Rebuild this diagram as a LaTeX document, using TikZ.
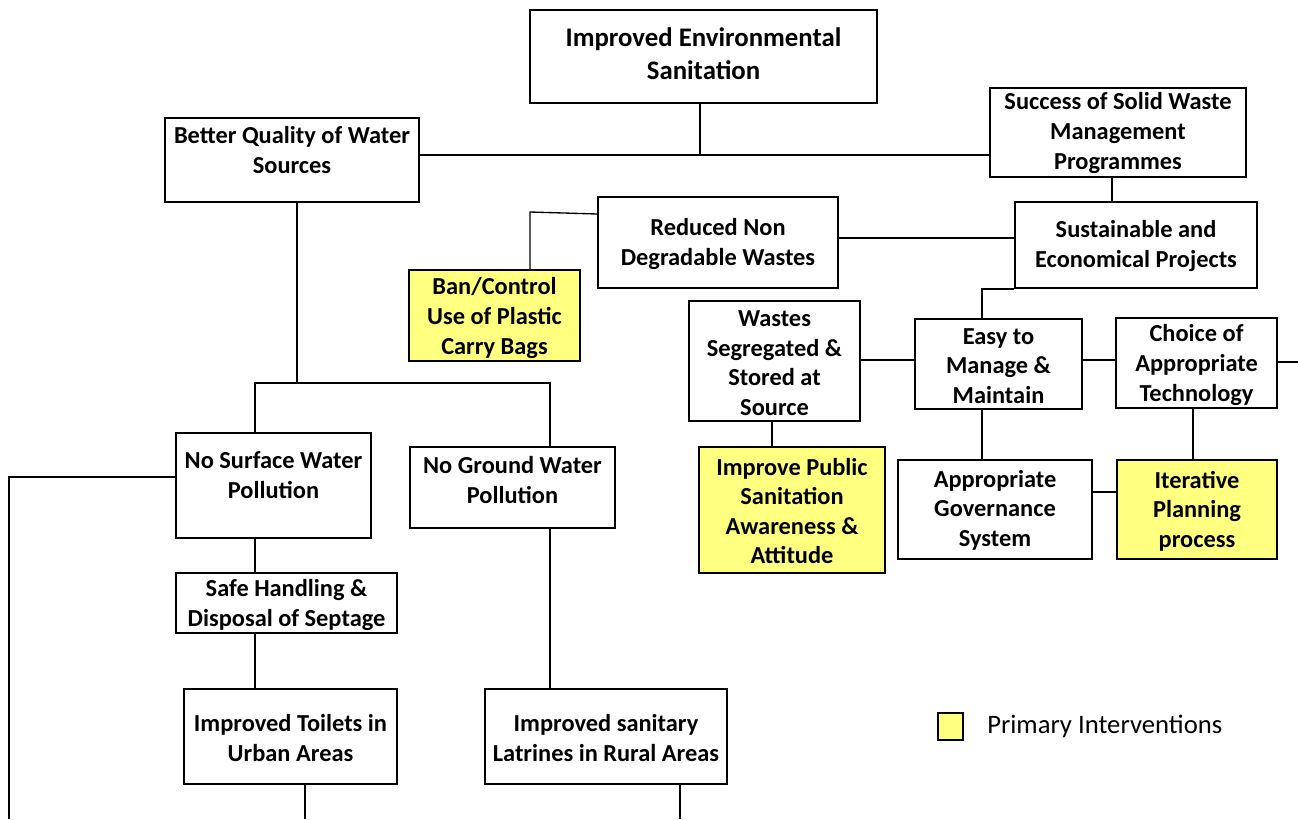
\documentclass[tikz,border=0pt]{standalone}
\usepackage{fontspec}
\setmainfont{Carlito}
\usetikzlibrary{fit}
\definecolor{pyellow}{RGB}{255,255,128}
\tikzset{
  box/.style={draw=black, line width=1.3pt, inner sep=0pt, fill=white},
  ybox/.style={box, fill=pyellow},
  txt/.style={font=\bfseries\fontsize{18.3}{22.2}\selectfont, align=center, inner sep=0pt},
  bigtxt/.style={font=\bfseries\fontsize{20.1}{25}\selectfont, align=center, inner sep=0pt},
  conn/.style={draw=black, line width=1pt},
}
\newcommand{\bx}[9]{%
  \node[#2, fit={(#3,#4) (#5,#6)}] (#1) {};
  \node[#9] (#1t) at ({(#3+#5)/2},#7) {#8};}
\begin{document}
\begin{tikzpicture}[x=0.75pt,y=-0.75pt]
\useasboundingbox (0,0) rectangle (1298,819);
% boxes
\bx{top}{box}{530}{10}{877}{103}{53.5}{Improved Environmental\\Sanitation}{bigtxt}
\bx{better}{box}{165}{118}{419}{202}{150}{Better Quality of Water\\Sources}{txt}
\bx{success}{box}{990}{88}{1246}{177}{133}{Success of Solid Waste\\Management\\Programmes}{txt}
\bx{reduced}{box}{598}{197}{838}{288}{244}{Reduced Non\\Degradable Wastes}{txt}
\bx{sust}{box}{1015}{202}{1257}{288}{246}{Sustainable and\\Economical Projects}{txt}
\bx{ban}{ybox}{409}{270}{580}{361}{318}{Ban/Control\\Use of Plastic\\Carry Bags}{txt}
\bx{wastes}{box}{689}{301}{860}{421}{363}{Wastes\\Segregated \&\\Stored at\\Source}{txt}
\bx{easy}{box}{915}{319}{1082}{409}{366}{Easy to\\Manage \&\\Maintain}{txt}
\bx{choice}{box}{1116}{318}{1277}{408}{365}{Choice of\\Appropriate\\Technology}{txt}
\bx{nosurf}{box}{176}{433}{371}{538}{475}{No Surface Water\\Pollution}{txt}
\bx{noground}{box}{410}{447}{615}{528}{480}{No Ground Water\\Pollution}{txt}
\bx{public}{ybox}{699}{447}{885}{573}{511}{Improve Public\\Sanitation\\Awareness \&\\Attitude}{txt}
\bx{gov}{box}{898}{460}{1092}{559}{510}{Appropriate\\Governance\\System}{txt}
\bx{iter}{ybox}{1117}{460}{1277}{559}{511}{Iterative\\Planning\\process}{txt}
\bx{safe}{box}{176}{573}{397}{633}{605}{Safe Handling \&\\Disposal of Septage}{txt}
\bx{toilets}{box}{184}{689}{397}{784}{738}{Improved Toilets in\\Urban Areas}{txt}
\bx{latrines}{box}{485}{689}{727}{784}{738}{Improved sanitary\\Latrines in Rural Areas}{txt}
% legend
\node[ybox, fit={(938,713) (963,740)}] (legbox) {};
\node[font=\fontsize{20}{24}\selectfont, anchor=west, inner sep=0pt] (legtxt) at (987,726) {Primary Interventions};
% helper coordinates
\coordinate (j1) at (700,155);
\coordinate (j2) at (1112,0);
\coordinate (j3) at (0,238);
\coordinate (j4) at (530,212);
\coordinate (j5) at (982,0);
\coordinate (j6) at (0,360);
\coordinate (j7) at (0,492);
\coordinate (j8) at (772,0);
\coordinate (j9) at (297,383);
\coordinate (j10) at (255,0);
\coordinate (j11) at (550,0);
\coordinate (j12) at (9,477);
\coordinate (edgeR) at (1298,362);
\coordinate (bL) at (9,819);
\coordinate (bT) at (305,819);
\coordinate (bR) at (680,819);
% connectors
\draw[conn] (top.south -| j1) -- (j1);
\draw[conn] (better.east |- j1) -- (success.west |- j1);
\draw[conn] (success.south -| j2) -- (sust.north -| j2);
\draw[conn] (reduced.east |- j3) -- (sust.west |- j3);
\draw[conn] (reduced.west |- 0,214) -- (j4) -- (ban.north -| j4);
\draw[conn] (sust.south west) -- (sust.south west -| j5) -- (easy.north -| j5);
\draw[conn] (easy.south -| j5) -- (gov.north -| j5);
\draw[conn] (wastes.east |- j6) -- (easy.west |- j6);
\draw[conn] (easy.east |- j6) -- (choice.west |- j6);
\draw[conn] (choice.east |- edgeR) -- (edgeR);
\draw[conn] (choice.south -| 1193,0) -- (iter.north -| 1193,0);
\draw[conn] (gov.east |- j7) -- (iter.west |- j7);
\draw[conn] (wastes.south -| j8) -- (public.north -| j8);
\draw[conn] (better.south -| j9) -- (j9);
\draw[conn] (nosurf.north -| j10) -- (j10 |- j9) -- (j11 |- j9) -- (noground.north -| j11);
\draw[conn] (nosurf.west |- j12) -- (j12) -- (bL);
\draw[conn] (nosurf.south -| j10) -- (safe.north -| j10);
\draw[conn] (safe.south -| j10) -- (toilets.north -| j10);
\draw[conn] (noground.south -| j11) -- (latrines.north -| j11);
\draw[conn] (toilets.south -| bT) -- (bT);
\draw[conn] (latrines.south -| bR) -- (bR);
\end{tikzpicture}
\end{document}
